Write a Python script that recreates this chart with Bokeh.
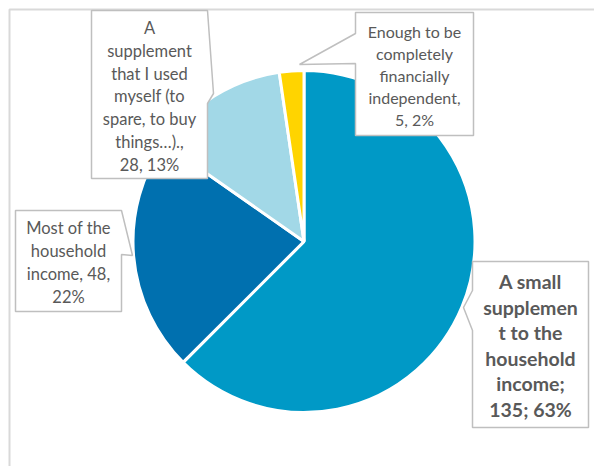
import numpy as np
from bokeh.plotting import figure
from bokeh.models import Range1d, ColumnDataSource
from bokeh.core.properties import value
from bokeh.embed import file_html
from bokeh.resources import INLINE

# ---- data ----
categories = [
    "A small supplement to the household income",
    "Most of the household income",
    "A supplement that I used myself (to spare, to buy things…).",
    "Enough to be completely financially independent",
]
counts = [135, 48, 28, 5]
percent_labels = ["63%", "22%", "13%", "2%"]
colors = ["#0099C6", "#0070AF", "#A2D8E7", "#FFD400"]
label_texts = [
    "A small\nsupplemen\nt to the\nhousehold\nincome;\n135; 63%",
    "Most of the\nhousehold\nincome, 48,\n22%",
    "A\nsupplement\nthat I used\nmyself (to\nspare, to buy\nthings…).,\n28, 13%",
    "Enough to be\ncompletely\nfinancially\nindependent,\n5, 2%",
]

W, H = 594, 466

def Y(y):
    return H - y

p = figure(width=W, height=H, output_backend="svg", toolbar_location=None,
           x_range=Range1d(0, W), y_range=Range1d(0, H), min_border=0)
p.axis.visible = False
p.grid.visible = False
p.outline_line_color = None
p.background_fill_color = "white"
p.border_fill_color = "white"

# chart frame (light grey)
p.line(x=[9, 9, W + 5], y=[Y(H + 5), Y(9), Y(9)], line_color="#D9D9D9", line_width=2)

# pie
total = float(sum(counts))
fr = np.array(counts) / total
cum = np.concatenate([[0], np.cumsum(fr)])
start = np.pi / 2 - 2 * np.pi * cum[:-1]
end = np.pi / 2 - 2 * np.pi * cum[1:]
cx, cy, r = 303.5, Y(241), 171
src = ColumnDataSource(dict(start=start, end=end, color=colors, cat=categories))
p.wedge(x=cx, y=cy, radius=r, start_angle="start", end_angle="end",
        direction="clock", fill_color="color", line_color="white", line_width=3,
        source=src)

# callout boxes (layout)
boxes = [
    [(472, 261), (588, 261), (588, 427), (472, 427), (472, 330), (463, 307), (472, 290)],
    [(15, 210), (121, 210), (132, 255), (121, 254), (121, 311), (15, 311)],
    [(91, 10), (207, 10), (213, 93), (207, 103), (207, 178), (91, 178)],
    [(355, 12), (473, 12), (473, 135), (355, 135), (355, 63), (299, 64), (355, 33)],
]
p.patches(xs=[[q[0] for q in b] for b in boxes], ys=[[Y(q[1]) for q in b] for b in boxes],
          fill_color="white", line_color="#BFBFBF", line_width=1.5)

# label texts
pos = [(530, 345), (68, 262), (149, 96), (414, 75)]
sizes = ["19.5px", "16.5px", "16.5px", "16px"]
styles = ["bold", "normal", "normal", "normal"]
lh = [1.11, 1.14, 1.14, 1.17]
for t, (x, y), s, st, l in zip(label_texts, pos, sizes, styles, lh):
    p.text(x=[x], y=[Y(y)], text=[t], text_font=value("Lato"), text_font_size=s,
           text_font_style=st, text_color="#595959", text_align="center",
           text_baseline="middle", text_line_height=l)

open("out.html", "w").write(file_html(p, INLINE))
